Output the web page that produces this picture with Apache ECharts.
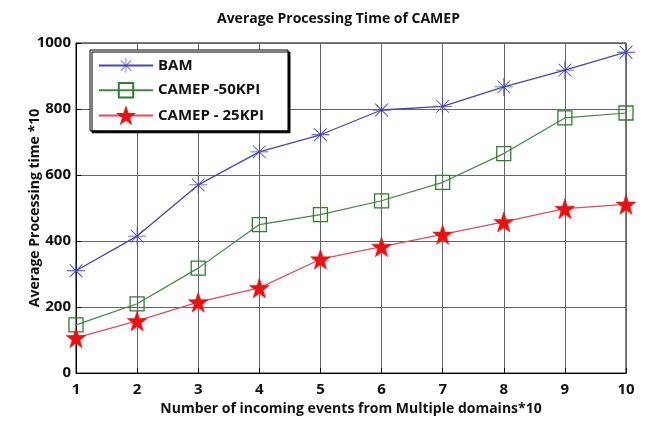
<!DOCTYPE html>
<html><head><meta charset="utf-8">
<script src="https://cdn.jsdelivr.net/npm/echarts@6/dist/echarts.min.js"></script>
<style>html,body{margin:0;padding:0;background:#fff}#c{width:650px;height:421px}</style>
</head><body><div id="c"></div>
<script>
const categories = [1, 2, 3, 4, 5, 6, 7, 8, 9, 10];
const bam = [310, 415, 570, 670, 722, 797, 808, 867, 918, 972];
const camep50 = [146, 210, 318, 450, 480, 522, 578, 665, 773, 788];
const camep25 = [107, 158, 215, 258, 345, 383, 420, 458, 498, 511];
const yTicks = [0, 200, 400, 600, 800, 1000];

const asterisk = 'path://M-0.45,-10L0.45,-10L0.45,10L-0.45,10Z M-10,-0.45L10,-0.45L10,0.45L-10,0.45Z M-6.75,-7.4L7.4,6.75L6.75,7.4L-7.4,-6.75Z M-7.4,6.75L6.75,-7.4L7.4,-6.75L-6.75,7.4Z';
const star = 'path://M0,-10L2.35,-3.24L9.51,-3.09L3.8,1.24L5.88,8.09L0,4L-5.88,8.09L-3.8,1.24L-9.51,-3.09L-2.35,-3.24Z';

const font = '"Open Sans", "Liberation Sans", sans-serif';
const pairs = a => a.map((v, i) => [categories[i], v]);

const chart = echarts.init(document.getElementById('c'), null, {renderer: 'canvas'});
chart.setOption({
  animation: false,
  backgroundColor: '#fff',
  title: {
    text: 'Average Processing Time of CAMEP',
    left: 212, top: 7,
    textStyle: {fontFamily: font, fontSize: 14, fontWeight: 'bold', color: '#111'}
  },
  grid: {left: 76, right: 24, top: 43, bottom: 46, show: true, borderColor: '#000', borderWidth: 1},
  legend: {
    orient: 'vertical',
    left: 90, top: 50,
    itemWidth: 54, itemHeight: 18, itemGap: 9,
    padding: [8, 24, 7, 8],
    backgroundColor: '#fff',
    borderColor: '#000', borderWidth: 1,
    shadowColor: '#000', shadowOffsetX: 2, shadowOffsetY: 2, shadowBlur: 0,
    textStyle: {fontFamily: font, fontSize: 15, fontWeight: 'bold', color: '#111'},
    data: ['BAM', 'CAMEP -50KPI', 'CAMEP - 25KPI']
  },
  xAxis: {
    type: 'value', min: 1, max: 10, interval: 1,
    name: 'Number of incoming events from Multiple domains*10',
    nameLocation: 'middle', nameGap: 27,
    nameTextStyle: {fontFamily: font, fontSize: 14, fontWeight: 'bold', color: '#111'},
    axisLine: {lineStyle: {color: '#000', width: 1}},
    axisTick: {inside: true, length: 5, lineStyle: {color: '#000'}},
    axisLabel: {fontFamily: font, fontSize: 15, fontWeight: 'bold', color: '#111', margin: 9},
    splitLine: {show: true, lineStyle: {color: '#666', width: 1}}
  },
  yAxis: {
    type: 'value', min: yTicks[0], max: yTicks[yTicks.length - 1], interval: 200,
    name: 'Average Processing time *10',
    nameLocation: 'middle', nameGap: 34, nameMoveOverlap: false,
    nameTextStyle: {fontFamily: font, fontSize: 14, fontWeight: 'bold', color: '#111'},
    axisLine: {show: true, lineStyle: {color: '#000', width: 1}},
    axisTick: {show: true, inside: true, length: 5, lineStyle: {color: '#000'}},
    axisLabel: {fontFamily: font, fontSize: 15, fontWeight: 'bold', color: '#111', margin: 5,
      formatter: v => String(v)},
    splitLine: {show: true, lineStyle: {color: '#666', width: 1}}
  },
  series: [
    {
      name: 'BAM', type: 'line', data: pairs(bam),
      symbol: asterisk, symbolSize: 18,
      lineStyle: {color: '#4545bb', width: 1.3},
      itemStyle: {color: '#4545bb', borderWidth: 0}
    },
    {
      name: 'CAMEP -50KPI', type: 'line', data: pairs(camep50),
      symbol: 'rect', symbolSize: 14,
      lineStyle: {color: '#3d8a3d', width: 1.2},
      itemStyle: {color: 'rgba(255,255,255,0)', borderColor: '#2f7f2f', borderWidth: 1.3}
    },
    {
      name: 'CAMEP - 25KPI', type: 'line', data: pairs(camep25),
      symbol: star, symbolSize: 20,
      lineStyle: {color: '#e04a5a', width: 1.3},
      itemStyle: {color: '#ee1010', borderColor: '#ee1010', borderWidth: 0.5}
    }
  ]
});
</script></body></html>
